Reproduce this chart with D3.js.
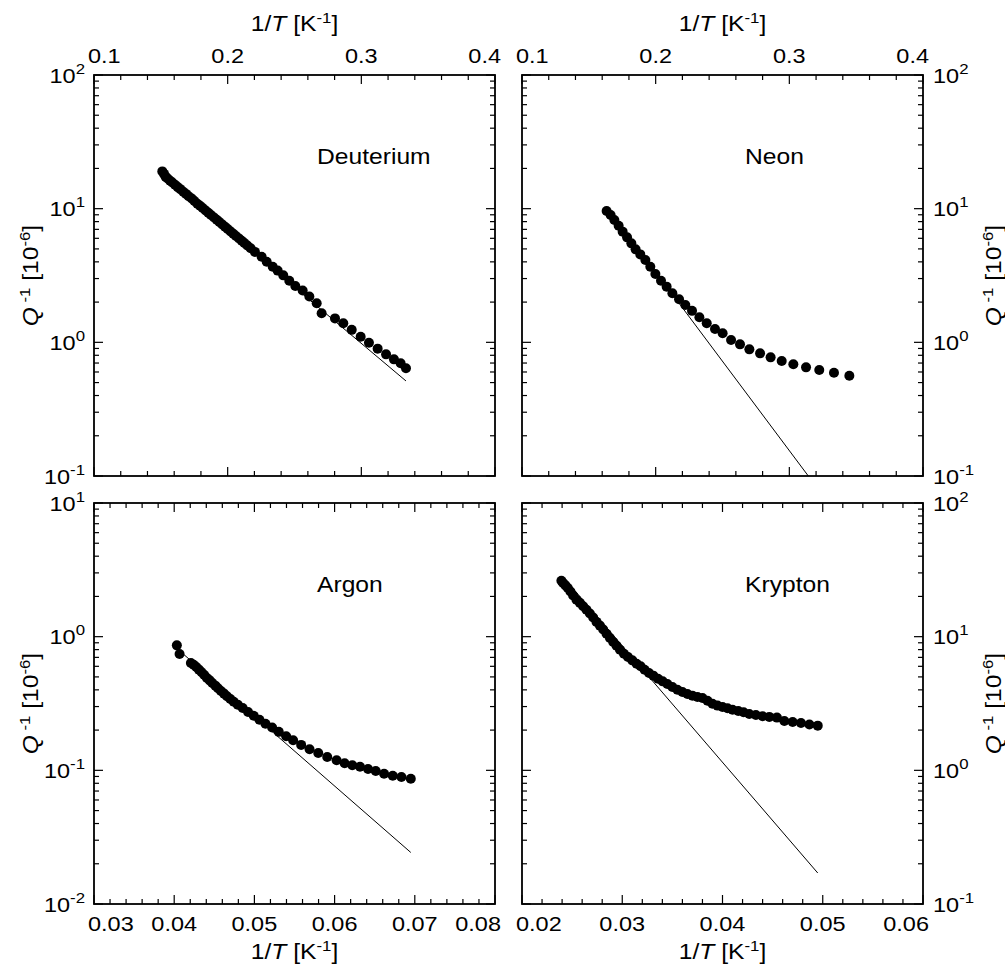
<!DOCTYPE html>
<html><head><meta charset="utf-8">
<script src="https://cdn.jsdelivr.net/npm/d3@7"></script>
<style>
body{margin:0;background:#fff}
svg{display:block}
text{font-family:"Liberation Sans",Arial,Helvetica,sans-serif;fill:#000}
</style>
</head><body>
<svg id="c" width="1005" height="969"></svg>
<script>
// ---------- data ----------
const deuteriumX=[0.1511,0.1524,0.1536,0.1551,0.1569,0.1586,0.1606,0.1626,0.1646,0.1668,0.1688,0.1708,0.1731,0.1751,0.1773,0.1793,0.1813,0.1835,0.1855,0.1875,0.1898,0.1918,0.1938,0.1960,0.1980,0.2000,0.2022,0.2042,0.2062,0.2085,0.2105,0.2125,0.2147,0.2172,0.2204,0.2254,0.2292,0.2337,0.2374,0.2416,0.2461,0.2506,0.2561,0.2611,0.2666,0.2703,0.2803,0.2865,0.2928,0.2995,0.3057,0.3122,0.3185,0.3244,0.3294,0.3334];
const deuteriumY=[19.0,18.2,17.3,16.8,16.2,15.7,15.1,14.5,14.0,13.4,12.9,12.4,11.9,11.4,10.9,10.5,10.1,9.70,9.33,8.98,8.59,8.26,7.95,7.62,7.33,7.05,6.75,6.50,6.25,5.98,5.75,5.53,5.30,5.05,4.75,4.37,4.01,3.68,3.44,3.17,2.89,2.64,2.44,2.20,1.96,1.65,1.51,1.39,1.24,1.10,0.994,0.897,0.813,0.746,0.697,0.639];
const deuteriumFitX=[0.151,0.3334];
const deuteriumFitY=[17.6,0.514];

const neonX=[0.1633,0.1663,0.1691,0.1723,0.1753,0.1786,0.1818,0.1850,0.1885,0.1923,0.1960,0.1998,0.2040,0.2082,0.2125,0.2175,0.2222,0.2272,0.2327,0.2382,0.2444,0.2501,0.2564,0.2631,0.2701,0.2781,0.2860,0.2943,0.3030,0.3125,0.3224,0.3334,0.3449];
const neonY=[9.60,8.97,8.23,7.46,6.73,6.10,5.50,4.96,4.55,4.13,3.68,3.25,2.89,2.61,2.33,2.10,1.90,1.72,1.54,1.39,1.26,1.17,1.04,0.966,0.886,0.827,0.772,0.725,0.685,0.650,0.621,0.593,0.563];
const neonFitX=[0.1633,0.3142];
const neonFitY=[10.4,0.1];

const argonX=[0.04033,0.04067,0.04208,0.04242,0.04275,0.04308,0.04342,0.04375,0.04408,0.04442,0.04475,0.04513,0.04546,0.04583,0.04621,0.04658,0.04700,0.04742,0.04792,0.04854,0.04921,0.04992,0.05063,0.05138,0.05221,0.05304,0.05396,0.05483,0.05583,0.05688,0.05796,0.05908,0.06025,0.06125,0.06221,0.06317,0.06417,0.06513,0.06617,0.06725,0.06833,0.06950];
const argonY=[0.861,0.742,0.635,0.617,0.593,0.567,0.541,0.517,0.491,0.471,0.450,0.430,0.411,0.392,0.375,0.358,0.342,0.326,0.310,0.293,0.273,0.256,0.239,0.223,0.209,0.194,0.180,0.168,0.155,0.144,0.135,0.126,0.119,0.113,0.109,0.1065,0.1023,0.0989,0.0944,0.0912,0.0891,0.0866];
const argonFitX=[0.0405,0.0695];
const argonFitY=[0.80,0.0243];

const kryptonX=[0.02393,0.02410,0.02433,0.02457,0.02483,0.02510,0.02543,0.02577,0.02610,0.02643,0.02677,0.02710,0.02743,0.02777,0.02810,0.02843,0.02877,0.02910,0.02943,0.02977,0.03017,0.03057,0.03100,0.03143,0.03183,0.03223,0.03267,0.03310,0.03357,0.03403,0.03450,0.03500,0.03550,0.03600,0.03650,0.03700,0.03750,0.03800,0.03850,0.03900,0.03950,0.04000,0.04050,0.04100,0.04157,0.04210,0.04267,0.04333,0.04400,0.04467,0.04543,0.04617,0.04700,0.04783,0.04867,0.04950];
const kryptonY=[26.2,25.2,24.2,23.1,21.8,20.3,18.9,17.9,16.9,15.9,14.9,13.9,12.9,12.1,11.3,10.5,9.77,9.12,8.56,7.99,7.46,7.05,6.65,6.28,6.00,5.66,5.35,5.11,4.85,4.63,4.43,4.20,4.01,3.85,3.72,3.62,3.54,3.48,3.32,3.15,3.05,2.98,2.91,2.84,2.78,2.72,2.64,2.59,2.54,2.51,2.48,2.34,2.30,2.26,2.20,2.16];
const kryptonFitX=[0.0245,0.0495];
const kryptonFitY=[25.8,0.1706];

const topXTicks=[0.1,0.2,0.3,0.4];
const topXTickLabels=["0.1","0.2","0.3","0.4"];
const argonXTicks=[0.03,0.04,0.05,0.06,0.07,0.08];
const argonXTickLabels=["0.03","0.04","0.05","0.06","0.07","0.08"];
const kryptonXTicks=[0.02,0.03,0.04,0.05,0.06];
const kryptonXTickLabels=["0.02","0.03","0.04","0.05","0.06"];
const yExpTop=["2","1","0","-1"];       // 10^2 ... 10^-1
const yExpArgon=["1","0","-1","-2"];    // 10^1 ... 10^-2

// ---------- layout ----------
const S=401, SX=1.12, FS=22, FT=21, FSUP=15;
const panels=[
 {label:"Deuterium",xs:deuteriumX,ys:deuteriumY,fx:deuteriumFitX,fy:deuteriumFitY,xd:[0.1,0.4],yd:[0.1,100],xt:topXTicks,xl:topXTickLabels,xm:0.02,ye:yExpTop,left:94,top:75,xSide:"top",ySide:"left"},
 {label:"Neon",xs:neonX,ys:neonY,fx:neonFitX,fy:neonFitY,xd:[0.1,0.4],yd:[0.1,100],xt:topXTicks,xl:topXTickLabels,xm:0.02,ye:yExpTop,left:522,top:75,xSide:"top",ySide:"right"},
 {label:"Argon",xs:argonX,ys:argonY,fx:argonFitX,fy:argonFitY,xd:[0.03,0.08],yd:[0.01,10],xt:argonXTicks,xl:argonXTickLabels,xm:0.002,ye:yExpArgon,left:94,top:503,xSide:"bottom",ySide:"left"},
 {label:"Krypton",xs:kryptonX,ys:kryptonY,fx:kryptonFitX,fy:kryptonFitY,xd:[0.02,0.06],yd:[0.1,100],xt:kryptonXTicks,xl:kryptonXTickLabels,xm:0.002,ye:yExpTop,left:522,top:503,xSide:"bottom",ySide:"right"}
];

const svg=d3.select("#c");
svg.append("rect").attr("width",1005).attr("height",969).attr("fill","#fff");

function stretched(parent,x,y,rot){
  return parent.append("g").attr("transform",`translate(${x},${y})${rot?" rotate(-90)":""} scale(${SX},1)`);
}
function xTitle(parent,x,y){
  const t=stretched(parent,x,y).append("text").attr("text-anchor","middle").style("font-size",FS+"px");
  t.append("tspan").text("1/");
  t.append("tspan").style("font-style","italic").text("T");
  t.append("tspan").text(" [K");
  t.append("tspan").attr("dy",-8).style("font-size",FSUP+"px").text("-1");
  t.append("tspan").attr("dy",8).text("]");
}
function yTitle(parent,x,y){
  const t=stretched(parent,x,y,true).append("text").attr("text-anchor","middle").style("font-size",FS+"px");
  t.append("tspan").style("font-style","italic").text("Q");
  t.append("tspan").attr("dy",-8).attr("dx",4).style("font-size",FSUP+"px").text("-1");
  t.append("tspan").attr("dy",8).text(" [10");
  t.append("tspan").attr("dy",-8).style("font-size",FSUP+"px").text("-6");
  t.append("tspan").attr("dy",8).text("]");
}

panels.forEach(p=>{
  const g=svg.append("g").attr("transform",`translate(${p.left},${p.top})`);
  const x=d3.scaleLinear().domain(p.xd).range([0,S]);
  const y=d3.scaleLog().domain(p.yd).range([S,0]);

  const cid="clip"+p.label;
  g.append("clipPath").attr("id",cid).append("rect").attr("width",S).attr("height",S);

  // ticks (inward, on all four sides)
  const tk=g.append("g").attr("stroke","#000").attr("stroke-width",1.2);
  const xMinor=d3.range(p.xd[0],p.xd[1]+p.xm/2,p.xm);
  xMinor.forEach(v=>{
    const isMajor=p.xt.some(t=>Math.abs(t-v)<p.xm/4);
    const L=isMajor?9:5, xx=x(v);
    tk.append("line").attr("x1",xx).attr("x2",xx).attr("y1",0).attr("y2",L);
    tk.append("line").attr("x1",xx).attr("x2",xx).attr("y1",S).attr("y2",S-L);
  });
  const lo=Math.round(Math.log10(p.yd[0])), hi=Math.round(Math.log10(p.yd[1]));
  for(let e=lo;e<=hi;e++){
    for(let m=1;m<=9;m++){
      if(e===hi && m>1) break;
      const v=m*Math.pow(10,e), yy=y(v), L=m===1?9:5;
      tk.append("line").attr("x1",0).attr("x2",L).attr("y1",yy).attr("y2",yy);
      tk.append("line").attr("x1",S).attr("x2",S-L).attr("y1",yy).attr("y2",yy);
    }
  }

  // fit line
  const fit=p.fx.map((v,i)=>[v,p.fy[i]]);
  g.append("path").datum(fit).attr("clip-path",`url(#${cid})`)
   .attr("d",d3.line().x(d=>x(d[0])).y(d=>y(d[1])))
   .attr("fill","none").attr("stroke","#000").attr("stroke-width",1);

  // points
  g.append("g").selectAll("circle").data(p.xs.map((v,i)=>[v,p.ys[i]])).join("circle")
   .attr("cx",d=>x(d[0])).attr("cy",d=>y(d[1])).attr("r",5).attr("fill","#000");

  // frame
  g.append("rect").attr("width",S).attr("height",S).attr("fill","none").attr("stroke","#000").attr("stroke-width",1.8);

  // x tick labels
  const n=p.xt.length;
  p.xt.forEach((v,i)=>{
    let xx=x(v), anchor="middle";
    if(i===0){anchor="start";xx-=6;} else if(i===n-1){anchor="end";xx+=6;}
    const yy=p.xSide==="top"?-12:S+27;
    stretched(g,xx,yy).append("text").attr("text-anchor",anchor).style("font-size",FT+"px").text(p.xl[i]);
  });
  if(p.xSide==="top") xTitle(svg,p.left+S/2,31); else xTitle(svg,p.left+S/2,959);

  // y tick labels
  p.ye.forEach(ex=>{
    const yy=y(Math.pow(10,+ex))+7.5;
    const isLeft=p.ySide==="left";
    const t=stretched(g,isLeft?-9:S+10,yy).append("text").attr("text-anchor",isLeft?"end":"start").style("font-size",FT+"px");
    t.append("tspan").text("10");
    t.append("tspan").attr("dy",-9).style("font-size",FSUP+"px").text(ex);
  });
  if(p.ySide==="left") yTitle(svg,38,p.top+S/2); else yTitle(svg,1001,p.top+S/2);

  // panel label
  stretched(g,223,89).append("text").style("font-size",FS+"px").text(p.label);
});
</script>
</body></html>
